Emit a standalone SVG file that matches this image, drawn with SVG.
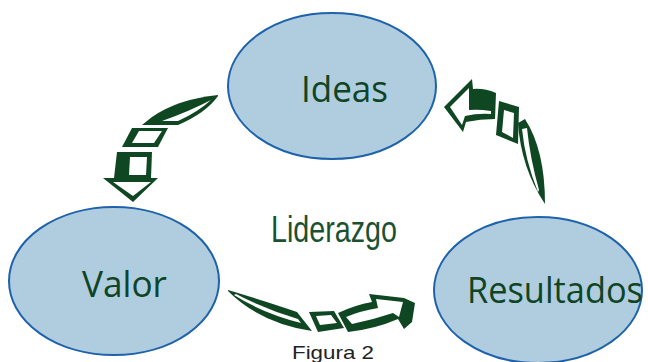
<svg xmlns="http://www.w3.org/2000/svg" width="648" height="362" viewBox="0 0 648 362">
<style>
.node ellipse{fill:#b0cde0;stroke:#1d62ab;stroke-width:2}
.nl{font-family:"Open Sans","Noto Sans",sans-serif;font-size:37px;fill:#0f4424}
.g{fill:#0e4722}
.w{fill:#ffffff}
</style>
<rect width="648" height="362" fill="#ffffff"/>
<g id="node-ideas" class="node">
<ellipse cx="332" cy="86" rx="104" ry="73"/>
<text class="nl" x="301" y="102" textLength="87" lengthAdjust="spacingAndGlyphs">Ideas</text>
</g>
<g id="node-valor" class="node">
<ellipse cx="114" cy="281" rx="105" ry="74"/>
<text class="nl" x="82" y="297" textLength="85" lengthAdjust="spacingAndGlyphs">Valor</text>
</g>
<g id="node-resultados" class="node">
<ellipse cx="538" cy="290" rx="104" ry="73"/>
<text class="nl" x="467" y="303" textLength="176" lengthAdjust="spacingAndGlyphs">Resultados</text>
</g>
<g id="label-liderazgo">
<text x="271" y="242" textLength="126" lengthAdjust="spacingAndGlyphs" style="font-family:'Liberation Sans Narrow','Liberation Sans',sans-serif;font-size:36px;fill:#1a5230">Liderazgo</text>
</g>
<g id="connectors">
<g id="arrow-ideas-valor">
<path class="g" d="M218,95 Q178,99 152,117 L142,125 L178,125 Q206,113 218,96 Z"/>
<path class="w" d="M211,100 Q190,111 162,121 L178,121 Q198,112 211,100 Z"/>
<path class="g" d="M132,128 L168,128 L158,147 L122,147 Z"/>
<path class="w" d="M139,131 L162,131 L154,143 L132,143 Z"/>
<path class="g" d="M117,152 L152,152 L151,178 L158,178 L133,202 L103,178 L114,178 Z"/>
<path class="w" d="M130,157 L147,157 L146,175 L129,175 Z"/>
<path class="w" d="M113,182 L151,182 L133,196 Z"/>
</g>
<g id="arrow-resultados-ideas">
<path class="g" d="M525,119 Q545,150 545,204 Q521,168 518,123 Z"/>
<path class="w" d="M522,129 Q525,160 538,192 L539,190 Q530,158 527,128 Z"/>
<path class="g" d="M499,101 L519,107 L518,144 L496,135 Z"/>
<path class="w" d="M504,110 L514,113 L513,138 L502,132 Z"/>
<path class="g" d="M496,93 Q484,88 473,89 L472,79 L444,107 L463,132 L466,122 Q480,119 495,119 Z"/>
<path class="w" d="M469,88 L450,107 L462,125 L465,116 Q478,113 491,114 L491,111 Q478,109 469,110 Z"/>
</g>
<g id="arrow-valor-resultados">
<path class="g" d="M228,290 Q268,302 297,312 L312,331 Q260,323 228,291 Z"/>
<path class="w" d="M236,294 Q265,309 298,319 L301,323 Q262,313 234,295 Z"/>
<path class="g" d="M309,312 L334,311 L344,328 L318,332 Z"/>
<path class="w" d="M316,316 L331,315 L337,323 L320,325 Z"/>
<path class="g" d="M338,313 Q355,305 372,302 L369,294 L404,298 L415,303 L412,322 L404,329 L398,319 Q375,329 348,332 Z"/>
<path class="w" d="M346,317 Q360,311 378,308 L376,299 L403,302 L399,317 L393,313 Q372,320 352,324 Z"/>
</g>
</g>
<g id="caption">
<text x="292" y="359" textLength="82" lengthAdjust="spacingAndGlyphs" style="font-family:'Liberation Sans',Arial,sans-serif;font-size:19px;fill:#222222">Figura 2</text>
</g>
</svg>
